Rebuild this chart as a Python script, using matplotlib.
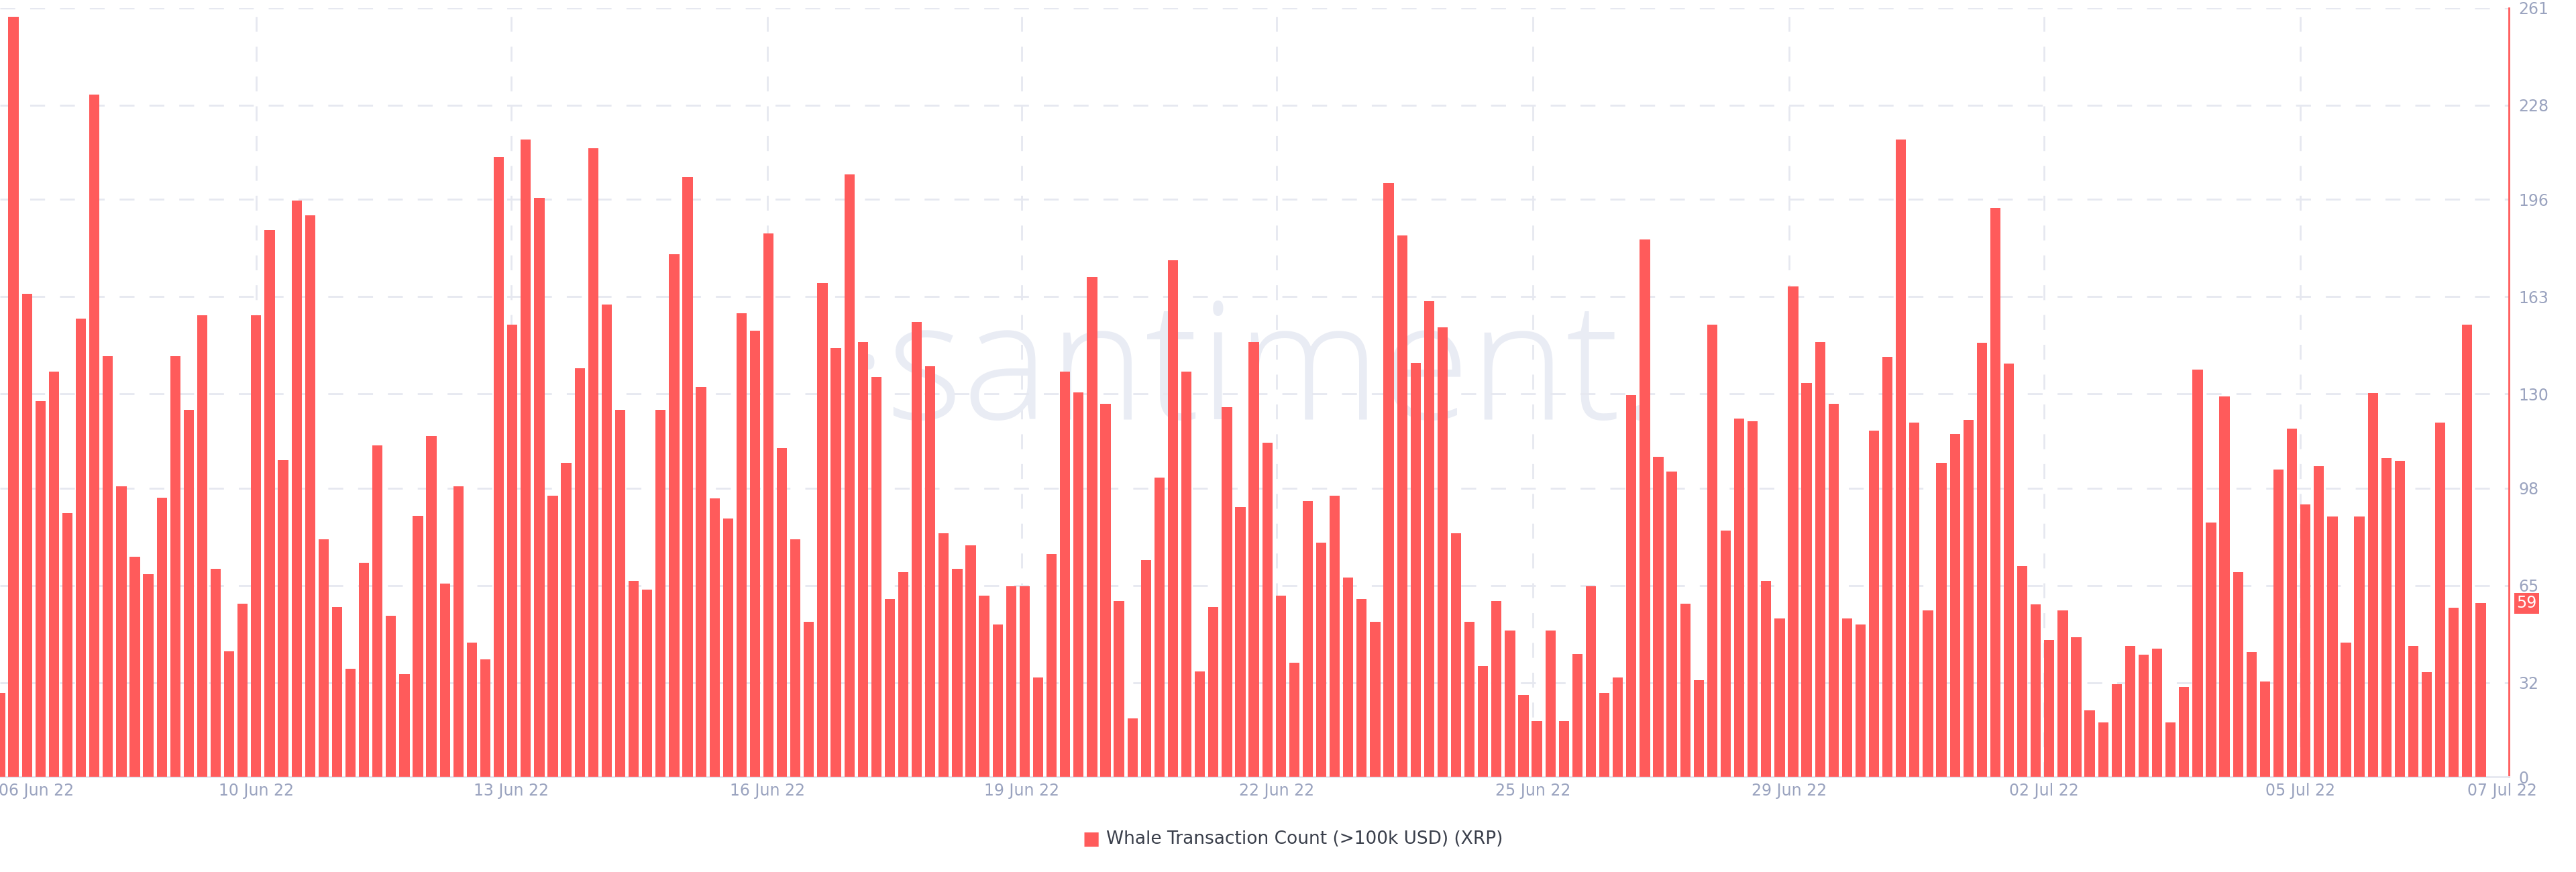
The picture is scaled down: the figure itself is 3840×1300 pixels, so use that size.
import numpy as np
from matplotlib import pyplot as plt

# whale transaction count per bar (6h buckets)
counts = [
    28.6, 258, 164, 127.6, 137.5, 89.5, 155.5, 231.5, 142.7, 98.6,
    74.8, 68.8, 94.7, 142.7, 124.5, 156.6, 70.7, 42.7, 58.8, 156.6,
    185.6, 107.5, 195.5, 190.5, 80.6, 57.6, 36.7, 72.7, 112.5, 54.7,
    34.8, 88.7, 115.6, 65.7, 98.6, 45.6, 39.8, 210.4, 153.5, 216.4,
    196.4, 95.5, 106.7, 138.6, 213.3, 160.4, 124.5, 66.5, 63.6, 124.5,
    177.3, 203.6, 132.4, 94.5, 87.6, 157.4, 151.4, 184.4, 111.6, 80.6,
    52.7, 167.6, 145.6, 204.4, 147.5, 135.7, 60.5, 69.6, 154.5, 139.4,
    82.7, 70.7, 78.5, 61.6, 51.8, 64.7, 64.7, 33.8, 75.6, 137.5,
    130.5, 169.6, 126.6, 59.7, 19.9, 73.6, 101.7, 175.4, 137.5, 35.7,
    57.6, 125.5, 91.6, 147.5, 113.5, 61.6, 38.8, 93.6, 79.6, 95.5,
    67.7, 60.5, 52.7, 201.5, 183.7, 140.6, 161.5, 152.5, 82.7, 52.7,
    37.7, 59.7, 49.7, 27.8, 18.9, 49.7, 18.9, 41.7, 64.7, 28.6,
    33.8, 129.5, 182.5, 108.6, 103.6, 58.7, 32.8, 153.5, 83.7, 121.6,
    120.6, 66.5, 53.7, 166.5, 133.6, 147.5, 126.6, 53.7, 51.8, 117.6,
    142.5, 216.4, 120.3, 56.5, 106.5, 116.5, 121.2, 147.3, 193.2, 140.3,
    71.6, 58.5, 46.5, 56.5, 47.4, 22.7, 18.5, 31.5, 44.4, 41.5,
    43.6, 18.5, 30.6, 138.2, 86.3, 129.2, 69.5, 42.5, 32.5, 104.4,
    118.2, 92.4, 105.4, 88.4, 45.5, 88.4, 130.3, 108.2, 107.3, 44.4,
    35.5, 120.3, 57.4, 153.4, 59,
]
tick_pos = [2.7, 19.0, 37.9, 56.9, 75.8, 94.7, 113.7, 132.7, 151.6, 170.6, 185.6]
tick_labels = ['06 Jun 22', '10 Jun 22', '13 Jun 22', '16 Jun 22', '19 Jun 22', '22 Jun 22',
               '25 Jun 22', '29 Jun 22', '02 Jul 22', '05 Jul 22', '07 Jul 22']
y_ticks = [0, 32, 65, 98, 130, 163, 196, 228, 261]

red = '#ff5b5b'
grid_col = '#e6e8f0'
label_col = '#9aa3bf'

fig = plt.figure(figsize=(38.4, 13), dpi=100)
ax = fig.add_axes([0.0, 0.109, 0.974, 0.882])

# watermark, behind the bars
ax.text(0.5, 0.52, '·santiment.', transform=ax.transAxes, ha='center', va='center',
        fontsize=175, color='#e9ecf4', zorder=1, family='Open Sans', fontweight='light')

x = np.arange(len(counts))
ax.bar(x, counts, width=0.76, color=red, zorder=3)

ax.set_xlim(0, 186.1)
ax.set_ylim(0, 261)

ax.set_yticks(y_ticks)
ax.yaxis.tick_right()
ax.tick_params(axis='y', length=0, labelsize=17, labelcolor=label_col, pad=10)
ax.grid(axis='y', color=grid_col, linestyle=(0, (8, 8)), linewidth=2, zorder=0)
for p in tick_pos[1:-1]:
    ax.axvline(p, color=grid_col, linestyle=(0, (8, 8)), linewidth=2, zorder=0)

ax.set_xticks(tick_pos)
ax.set_xticklabels(tick_labels)
ax.tick_params(axis='x', length=0, labelsize=17, labelcolor=label_col, pad=6)

for s in ('top', 'left'):
    ax.spines[s].set_visible(False)
ax.spines['right'].set_color(red)
ax.spines['right'].set_linewidth(2)
ax.spines['bottom'].set_color(grid_col)
ax.spines['bottom'].set_linewidth(2)

# last value badge on the right axis
ax.annotate('{:d}'.format(int(counts[-1])), xy=(1.0, counts[-1]), xycoords=('axes fraction', 'data'),
            xytext=(8, 0), textcoords='offset points', va='center', ha='left', fontsize=17,
            color='white', bbox=dict(boxstyle='square,pad=0.15', fc=red, ec='none'))

# legend
fig.text(0.4235, 0.038, '\u25a0', ha='center', va='center', fontsize=20, color=red)
fig.text(0.4295, 0.038, 'Whale Transaction Count (>100k USD) (XRP)', ha='left', va='center',
         fontsize=19, color='#3a3f4b')

plt.savefig('out.png')
